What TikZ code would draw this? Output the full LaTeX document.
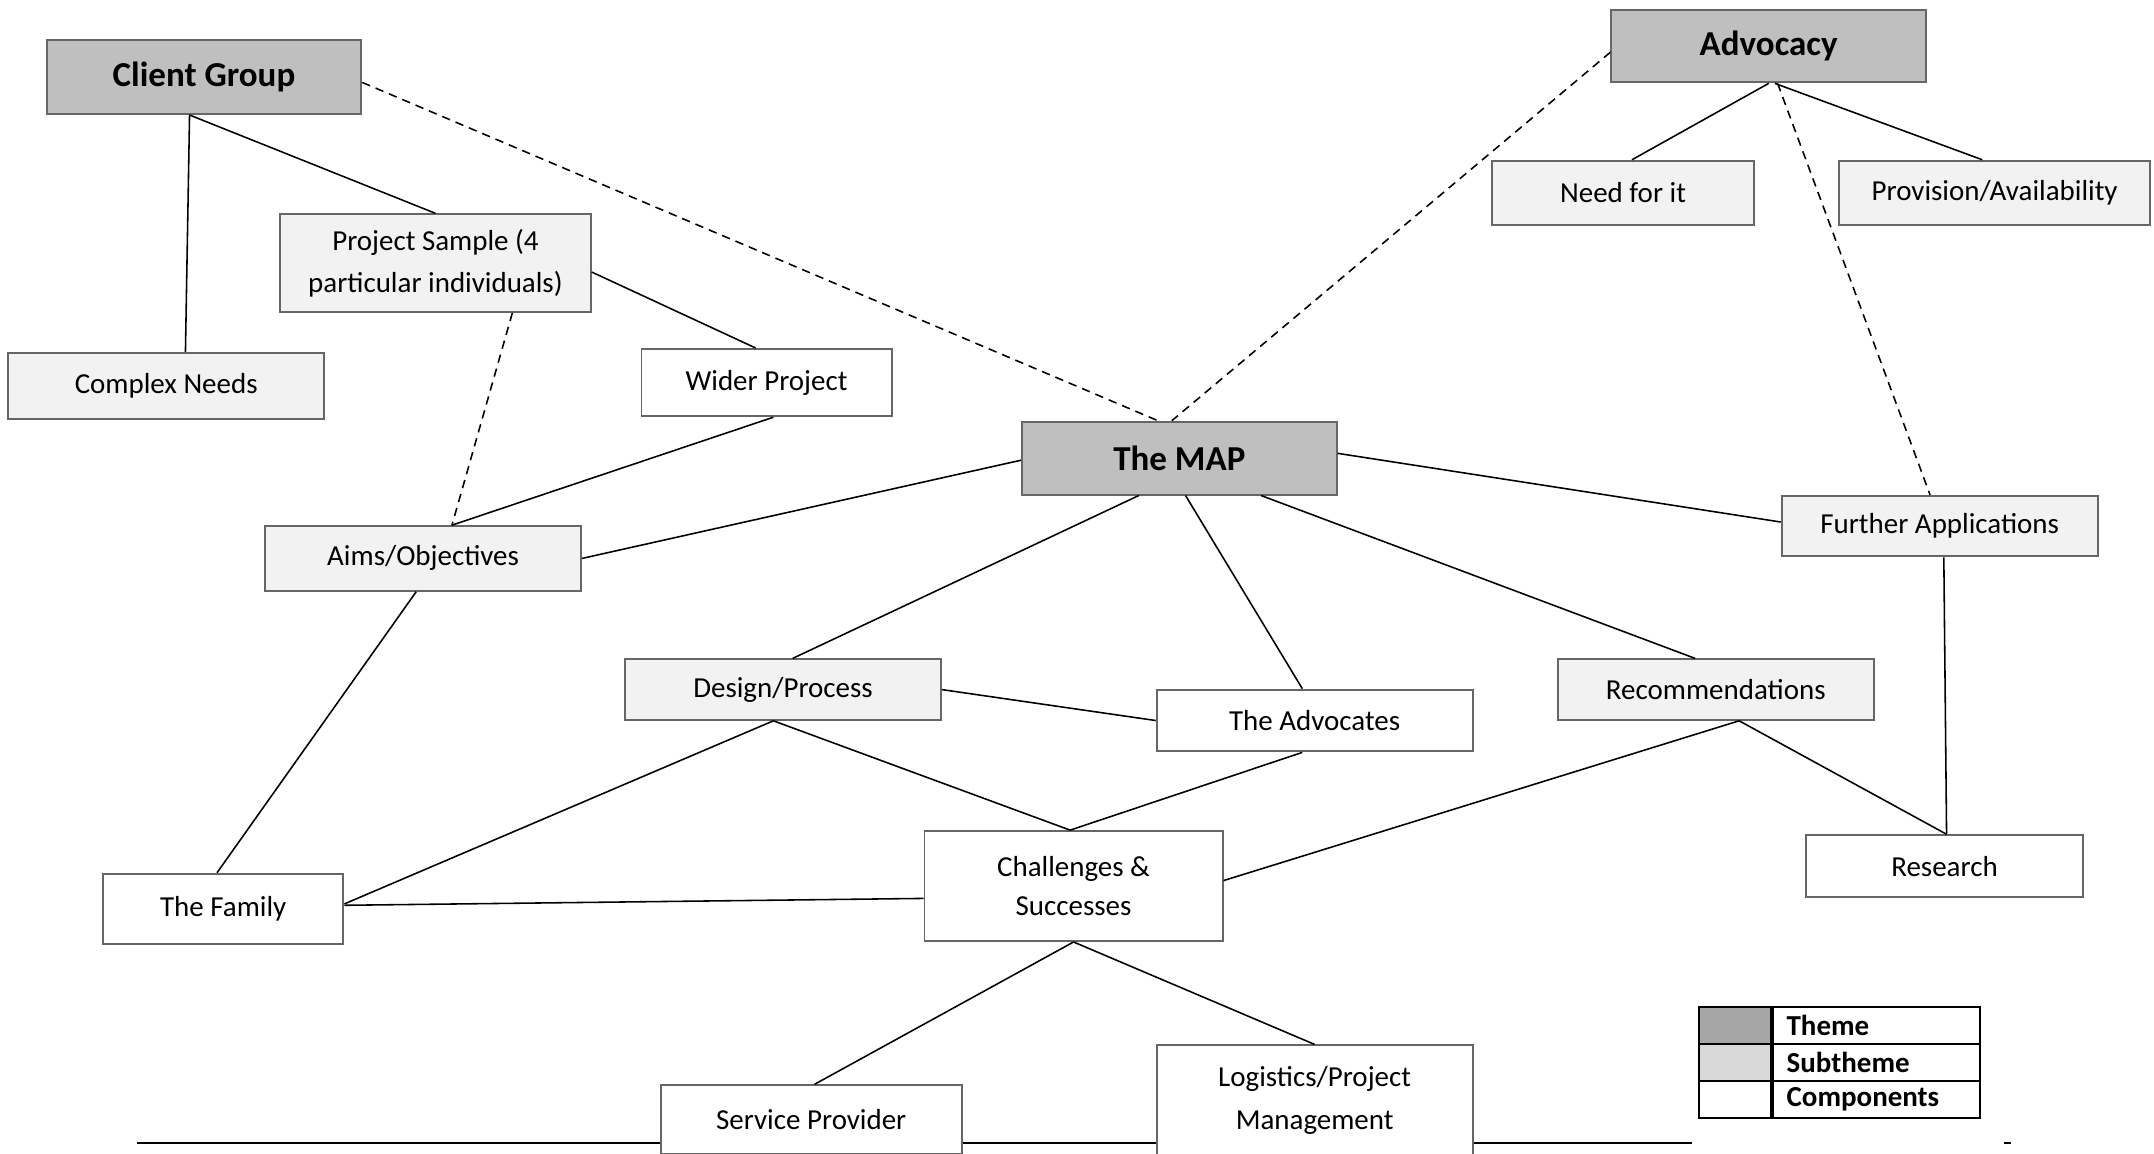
\documentclass[tikz,border=0pt]{standalone}
\usepackage{fontspec}
\setmainfont{Carlito}
\usetikzlibrary{positioning}

\begin{document}
\begin{tikzpicture}[
    box/.style={draw=black!60, line width=0.8pt, minimum width=4.6cm, minimum height=0.9cm, inner sep=2pt, align=center, font=\fontsize{12}{17.5}\selectfont},
    theme/.style={box, fill=black!25, minimum width=4.58cm, minimum height=1.06cm, font=\fontsize{14.5}{17}\selectfont\bfseries},
    subtheme/.style={box, fill=black!5},
    comp/.style={box, fill=white},
    link/.style={line width=0.65pt},
    dlink/.style={link, dash pattern=on 3.5pt off 2.5pt},
    legsw/.style={draw, line width=0.9pt, minimum width=1.04cm, minimum height=0.54cm, inner sep=0pt},
    legtxt/.style={legsw, text width=2.62cm, inner xsep=0.2cm, align=left, font=\fontsize{12}{14}\selectfont\bfseries}
  ]
      \useasboundingbox (-17.17,-10.13) rectangle (14.19,6.67);
      \clip (-17.17,-10.13) rectangle (14.19,6.67);

      % page rule behind the bottom boxes
      \draw[line width=0.9pt] (-15.17,-9.97) -- (7.47,-9.97);
      \draw[line width=0.9pt] (12.01,-9.97) -- (12.11,-9.97);

      \node[theme] (MAP) {The MAP};
      \node[theme, on grid, above left=5.55cm and 14.2cm of MAP, minimum height=1.08cm] (CG) {Client Group};
      \node[theme, on grid, above right=6cm and 8.58cm of MAP] (Adv) {Advocacy};
      \node[subtheme, on grid, below left=2.14cm and 2.12cm of Adv, minimum width=3.82cm, minimum height=0.94cm] (Need) {Need for it};
      \node[subtheme, on grid, below right=2.14cm and 3.29cm of Adv, minimum width=4.52cm, minimum height=0.94cm] (Prov) {Provision/Availability};
      \node[subtheme, on grid, below right=2.71cm and 3.37cm of CG, minimum width=4.52cm, minimum height=1.42cm] (PS) {Project Sample (4\\particular individuals)};
      \node[subtheme, on grid, below left=4.5cm and 0.55cm of CG, minimum height=0.96cm] (CN) {Complex Needs};
      \node[comp, on grid, below right=1.74cm and 4.82cm of PS, minimum width=3.64cm, minimum height=0.98cm] (WP) {Wider Project};
      \node[subtheme, on grid, below left=4.3cm and 0.18cm of PS, minimum height=0.94cm] (Aims) {Aims/Objectives};
      \node[subtheme, on grid, below right=0.99cm and 11.07cm of MAP, minimum height=0.88cm] (FA) {Further Applications};
      \node[subtheme, on grid, below left=3.37cm and 5.77cm of MAP, minimum height=0.88cm] (DP) {Design/Process};
      \node[comp, on grid, below right=3.82cm and 1.97cm of MAP] (TA) {The Advocates};
      \node[subtheme, on grid, below right=3.37cm and 7.81cm of MAP, minimum height=0.88cm] (Rec) {Recommendations};
      \node[comp, on grid, below left=6.23cm and 1.54cm of MAP, minimum width=4.34cm, minimum height=1.6cm, font=\fontsize{12}{16.5}\selectfont] (CS) {Challenges \&\\Successes};
      \node[comp, on grid, below right=4.95cm and 0.07cm of FA, minimum width=4.02cm] (Res) {Research};
      \node[comp, on grid, below left=5.1cm and 2.91cm of Aims, minimum width=3.5cm, minimum height=1.02cm] (TF) {The Family};
      \node[comp, on grid, below left=3.4cm and 3.82cm of CS, minimum width=4.38cm, minimum height=1cm] (SP) {Service Provider};
      \node[comp, on grid, below right=3.12cm and 3.51cm of CS, minimum height=1.6cm] (LPM) {Logistics/Project\\Management};

      % solid links
      \draw[link] ([xshift=-0.21cm]CG.south) to ([xshift=0.28cm]CN.north);
      \draw[link] ([xshift=-0.21cm]CG.south) to (PS.north);
      \draw[link] ([yshift=-0.13cm]PS.east) to ([xshift=-0.16cm]WP.north);
      \draw[link] ([xshift=0.1cm]WP.south) to ([xshift=0.42cm]Aims.north);
      \draw[link] (Aims.east) to ([yshift=-0.03cm]MAP.west);
      \draw[link] ([xshift=-0.1cm]Aims.south) to ([xshift=-0.09cm]TF.north);
      \draw[link] ([xshift=-0.59cm]MAP.south) to ([xshift=0.14cm]DP.north);
      \draw[link] ([xshift=0.09cm]MAP.south) to ([xshift=-0.18cm]TA.north);
      \draw[link] ([xshift=1.19cm]MAP.south) to ([xshift=-0.3cm]Rec.north);
      \draw[link] ([yshift=0.07cm]MAP.east) to ([yshift=0.06cm]FA.west);
      \draw[link] ([xshift=0.06cm]FA.south) to ([xshift=0.03cm]Res.north);
      \draw[link] ([xshift=0.34cm]Rec.south) to ([xshift=0.03cm]Res.north);
      \draw[link] ([xshift=0.34cm]Rec.south) to ([yshift=0.08cm]CS.east);
      \draw[link] (DP.east) to (TA.west);
      \draw[link] ([xshift=-0.14cm]DP.south) to ([xshift=-0.05cm]CS.north);
      \draw[link] ([xshift=-0.14cm]DP.south) to ([yshift=0.07cm]TF.east);
      \draw[link] ([xshift=-0.18cm]TA.south) to ([xshift=-0.05cm]CS.north);
      \draw[link] ([yshift=0.05cm]TF.east) to ([yshift=-0.18cm]CS.west);
      \draw[link] (CS.south) to ([xshift=0.05cm]SP.north);
      \draw[link] (CS.south) to (LPM.north);
      \draw[link] (Adv.south) to ([xshift=0.13cm]Need.north);
      \draw[link] ([xshift=0.09cm]Adv.south) to ([xshift=-0.18cm]Prov.north);

      % dashed links
      \draw[dlink] ([yshift=-0.08cm]CG.east) to ([xshift=-0.31cm]MAP.north);
      \draw[dlink] ([yshift=-0.09cm]Adv.west) to ([xshift=-0.11cm]MAP.north);
      \draw[dlink] ([xshift=0.13cm]Adv.south) to ([xshift=-0.14cm]FA.north);
      \draw[dlink] ([xshift=1.12cm]PS.south) to ([xshift=0.42cm]Aims.north);

      % key
      \node[legsw, fill=black!35, on grid, below left=2.32cm and 3.05cm of Res] (Sw1) {};
      \node[legsw, fill=black!15, on grid, below=0.54cm of Sw1] (Sw2) {};
      \node[legsw, on grid, below=0.54cm of Sw2] (Sw3) {};
      \node[legtxt, right=0cm of Sw1] (Lg1) {Theme};
      \node[legtxt, right=0cm of Sw2] (Lg2) {Subtheme};
      \node[legtxt, right=0cm of Sw3] (Lg3) {Components};
\end{tikzpicture}
\end{document}
